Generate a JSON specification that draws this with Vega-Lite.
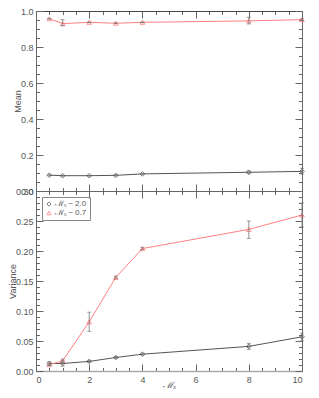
{
  "$schema": "https://vega.github.io/schema/vega-lite/v6.json",
  "background": "white",
  "padding": {"left": 8, "top": 7, "right": 5, "bottom": 0},
  "spacing": 0,
  "bounds": "flush",
  "resolve": {"scale": {"color": "independent", "shape": "independent", "stroke": "independent"}, "legend": {"color": "independent", "shape": "independent"}},
  "config": {
    "font": "Liberation Sans",
    "view": {"stroke": null},
    "axis": {"labelFont": "Liberation Sans", "labelFontSize": 9, "labelColor": "#555", "titleColor": "#555", "titleFontWeight": "normal", "titleFontSize": 9, "domainColor": "#666", "tickColor": "#666", "grid": false}
  },
  "datasets": {
    "mean": [
      {"Ms": 0.5, "series": "ℳₛ ~ 2.0", "value": 0.088, "lo": 0.085, "hi": 0.091},
      {"Ms": 1, "series": "ℳₛ ~ 2.0", "value": 0.085, "lo": 0.083, "hi": 0.087},
      {"Ms": 2, "series": "ℳₛ ~ 2.0", "value": 0.085, "lo": 0.083, "hi": 0.087},
      {"Ms": 3, "series": "ℳₛ ~ 2.0", "value": 0.087, "lo": 0.084, "hi": 0.09},
      {"Ms": 4, "series": "ℳₛ ~ 2.0", "value": 0.095, "lo": 0.093, "hi": 0.097},
      {"Ms": 8, "series": "ℳₛ ~ 2.0", "value": 0.104, "lo": 0.096, "hi": 0.112},
      {"Ms": 10, "series": "ℳₛ ~ 2.0", "value": 0.109, "lo": 0.094, "hi": 0.126},
      {"Ms": 0.5, "series": "ℳₛ ~ 0.7", "value": 0.957, "lo": 0.955, "hi": 0.959},
      {"Ms": 1, "series": "ℳₛ ~ 0.7", "value": 0.93, "lo": 0.918, "hi": 0.952},
      {"Ms": 2, "series": "ℳₛ ~ 0.7", "value": 0.937, "lo": 0.935, "hi": 0.939},
      {"Ms": 3, "series": "ℳₛ ~ 0.7", "value": 0.932, "lo": 0.93, "hi": 0.934},
      {"Ms": 4, "series": "ℳₛ ~ 0.7", "value": 0.937, "lo": 0.935, "hi": 0.939},
      {"Ms": 8, "series": "ℳₛ ~ 0.7", "value": 0.945, "lo": 0.928, "hi": 0.965},
      {"Ms": 10, "series": "ℳₛ ~ 0.7", "value": 0.952, "lo": 0.947, "hi": 0.957}
    ],
    "var": [
      {"Ms": 0.5, "series": "ℳₛ ~ 2.0", "value": 0.0125, "lo": 0.0095, "hi": 0.0155},
      {"Ms": 1, "series": "ℳₛ ~ 2.0", "value": 0.0125, "lo": 0.008, "hi": 0.017},
      {"Ms": 2, "series": "ℳₛ ~ 2.0", "value": 0.016, "lo": 0.0145, "hi": 0.0175},
      {"Ms": 3, "series": "ℳₛ ~ 2.0", "value": 0.0225, "lo": 0.021, "hi": 0.024},
      {"Ms": 4, "series": "ℳₛ ~ 2.0", "value": 0.028, "lo": 0.0265, "hi": 0.0295},
      {"Ms": 8, "series": "ℳₛ ~ 2.0", "value": 0.041, "lo": 0.036, "hi": 0.046},
      {"Ms": 10, "series": "ℳₛ ~ 2.0", "value": 0.057, "lo": 0.0505, "hi": 0.063},
      {"Ms": 0.5, "series": "ℳₛ ~ 0.7", "value": 0.0105, "lo": 0.009, "hi": 0.012},
      {"Ms": 1, "series": "ℳₛ ~ 0.7", "value": 0.017, "lo": 0.014, "hi": 0.02},
      {"Ms": 2, "series": "ℳₛ ~ 0.7", "value": 0.082, "lo": 0.066, "hi": 0.098},
      {"Ms": 3, "series": "ℳₛ ~ 0.7", "value": 0.156, "lo": 0.154, "hi": 0.158},
      {"Ms": 4, "series": "ℳₛ ~ 0.7", "value": 0.204, "lo": 0.202, "hi": 0.206},
      {"Ms": 8, "series": "ℳₛ ~ 0.7", "value": 0.236, "lo": 0.221, "hi": 0.25},
      {"Ms": 10, "series": "ℳₛ ~ 0.7", "value": 0.26, "lo": 0.24, "hi": 0.28}
    ]
  },
  "vconcat": [
    {
      "width": 266,
      "height": 180,
      "data": {"name": "mean"},
      "resolve": {"axis": {"x": "independent", "y": "independent"}},
      "layer": [
        {
          "mark": {"type": "line", "strokeWidth": 1},
          "encoding": {
            "x": {"field": "Ms", "type": "quantitative", "scale": {"domain": [0, 10], "nice": false},
              "axis": {"orient": "bottom", "title": null, "labels": false, "values": [0,0.5,1,1.5,2,2.5,3,3.5,4,4.5,5,5.5,6,6.5,7,7.5,8,8.5,9,9.5,10],
                "tickSize": {"condition": {"test": "datum.value % 2 === 0", "value": -7}, "value": -3.5}}},
            "y": {"field": "value", "type": "quantitative", "scale": {"domain": [0, 1], "nice": false},
              "axis": {"orient": "left", "title": "Mean", "titlePadding": -2,
                "values": [0,0.05,0.1,0.15,0.2,0.25,0.3,0.35,0.4,0.45,0.5,0.55,0.6,0.65,0.7,0.75,0.8,0.85,0.9,0.95,1],
                "labelExpr": "abs(datum.value*5 - round(datum.value*5)) < 0.001 ? format(datum.value, '.1f') : ''",
                "tickSize": {"condition": {"test": "abs(datum.value*5 - round(datum.value*5)) < 0.001", "value": -7}, "value": -3.5},
                "labelPadding": 10}},
            "stroke": {"field": "series", "type": "nominal", "scale": {"domain": ["ℳₛ ~ 0.7", "ℳₛ ~ 2.0"], "range": ["#ff8080", "#555555"]}, "legend": null}
          }
        },
        {
          "mark": {"type": "point", "filled": false, "size": 22, "strokeWidth": 1},
          "encoding": {
            "x": {"field": "Ms", "type": "quantitative", "axis": null},
            "y": {"field": "value", "type": "quantitative", "axis": null},
            "color": {"field": "series", "type": "nominal", "scale": {"domain": ["ℳₛ ~ 2.0", "ℳₛ ~ 0.7"], "range": ["#444444", "#ff6f6f"]}, "legend": null},
            "shape": {"field": "series", "type": "nominal", "scale": {"domain": ["ℳₛ ~ 2.0", "ℳₛ ~ 0.7"], "range": ["diamond", "triangle-up"]}, "legend": null}
          }
        },
        {
          "mark": {"type": "errorbar", "ticks": {"size": 4}, "rule": {"strokeWidth": 0.8}},
          "encoding": {
            "x": {"field": "Ms", "type": "quantitative", "axis": null},
            "y": {"field": "lo", "type": "quantitative", "axis": null},
            "y2": {"field": "hi"},
            "color": {"value": "#777777"}
          }
        },
        {
          "mark": {"type": "point", "opacity": 0},
          "encoding": {
            "x": {"field": "Ms", "type": "quantitative",
              "axis": {"orient": "top", "title": null, "labels": false, "domainColor": "#444", "values": [0,0.5,1,1.5,2,2.5,3,3.5,4,4.5,5,5.5,6,6.5,7,7.5,8,8.5,9,9.5,10],
                "tickSize": {"condition": {"test": "datum.value % 2 === 0", "value": -7}, "value": -3.5}}},
            "y": {"field": "value", "type": "quantitative",
              "axis": {"orient": "right", "title": null, "labels": false,
                "values": [0,0.05,0.1,0.15,0.2,0.25,0.3,0.35,0.4,0.45,0.5,0.55,0.6,0.65,0.7,0.75,0.8,0.85,0.9,0.95,1],
                "tickSize": {"condition": {"test": "abs(datum.value*5 - round(datum.value*5)) < 0.001", "value": -7}, "value": -3.5}}}
          }
        }
      ]
    },
    {
      "width": 266,
      "height": 180,
      "data": {"name": "var"},
      "resolve": {"axis": {"x": "independent", "y": "independent"}},
      "layer": [
        {
          "mark": {"type": "line", "strokeWidth": 1},
          "encoding": {
            "x": {"field": "Ms", "type": "quantitative", "scale": {"domain": [0, 10], "nice": false},
              "axis": {"orient": "bottom", "title": "ℳₛ", "titleFontStyle": "italic", "titlePadding": -4, "values": [0,0.5,1,1.5,2,2.5,3,3.5,4,4.5,5,5.5,6,6.5,7,7.5,8,8.5,9,9.5,10],
                "labelExpr": "datum.value % 2 === 0 ? format(datum.value, 'd') : ''", "labelPadding": 11, "domainColor": "#aaa", "domainWidth": 1.5,
                "tickSize": {"condition": {"test": "datum.value % 2 === 0", "value": -7}, "value": -3.5}}},
            "y": {"field": "value", "type": "quantitative", "scale": {"domain": [0, 0.3], "nice": false},
              "axis": {"orient": "left", "title": "Variance", "titlePadding": -2,
                "values": [0,0.01,0.02,0.03,0.04,0.05,0.06,0.07,0.08,0.09,0.1,0.11,0.12,0.13,0.14,0.15,0.16,0.17,0.18,0.19,0.2,0.21,0.22,0.23,0.24,0.25,0.26,0.27,0.28,0.29,0.3],
                "labelExpr": "abs(datum.value*20 - round(datum.value*20)) < 0.001 ? format(datum.value, '.2f') : ''",
                "tickSize": {"condition": {"test": "abs(datum.value*20 - round(datum.value*20)) < 0.001", "value": -7}, "value": -3.5},
                "labelPadding": 10}},
            "stroke": {"field": "series", "type": "nominal", "scale": {"domain": ["ℳₛ ~ 0.7", "ℳₛ ~ 2.0"], "range": ["#ff8080", "#555555"]}, "legend": null}
          }
        },
        {
          "mark": {"type": "point", "filled": false, "size": 22, "strokeWidth": 1},
          "encoding": {
            "x": {"field": "Ms", "type": "quantitative", "axis": null},
            "y": {"field": "value", "type": "quantitative", "axis": null},
            "color": {"field": "series", "type": "nominal", "scale": {"domain": ["ℳₛ ~ 2.0", "ℳₛ ~ 0.7"], "range": ["#444444", "#ff6f6f"]},
              "legend": {"title": null, "orient": "top-left", "offset": 6, "padding": 3, "strokeColor": "#888", "labelFontSize": 8, "labelColor": "#555", "symbolSize": 18, "rowPadding": 0, "labelOffset": 2, "symbolStrokeWidth": 1}},
            "shape": {"field": "series", "type": "nominal", "scale": {"domain": ["ℳₛ ~ 2.0", "ℳₛ ~ 0.7"], "range": ["diamond", "triangle-up"]},
              "legend": {"title": null, "orient": "top-left", "offset": 6, "padding": 3, "strokeColor": "#888", "labelFontSize": 8, "labelColor": "#555", "symbolSize": 18, "rowPadding": 0, "labelOffset": 2, "symbolStrokeWidth": 1}}
          }
        },
        {
          "mark": {"type": "errorbar", "ticks": {"size": 4}, "rule": {"strokeWidth": 0.8}},
          "encoding": {
            "x": {"field": "Ms", "type": "quantitative", "axis": null},
            "y": {"field": "lo", "type": "quantitative", "axis": null},
            "y2": {"field": "hi"},
            "color": {"value": "#777777"}
          }
        },
        {
          "mark": {"type": "point", "opacity": 0},
          "encoding": {
            "x": {"field": "Ms", "type": "quantitative",
              "axis": {"orient": "top", "title": null, "labels": false, "values": [0,0.5,1,1.5,2,2.5,3,3.5,4,4.5,5,5.5,6,6.5,7,7.5,8,8.5,9,9.5,10],
                "tickSize": {"condition": {"test": "datum.value % 2 === 0", "value": -7}, "value": -3.5}}},
            "y": {"field": "value", "type": "quantitative",
              "axis": {"orient": "right", "title": null, "labels": false,
                "values": [0,0.01,0.02,0.03,0.04,0.05,0.06,0.07,0.08,0.09,0.1,0.11,0.12,0.13,0.14,0.15,0.16,0.17,0.18,0.19,0.2,0.21,0.22,0.23,0.24,0.25,0.26,0.27,0.28,0.29,0.3],
                "tickSize": {"condition": {"test": "abs(datum.value*20 - round(datum.value*20)) < 0.001", "value": -7}, "value": -3.5}}}
          }
        }
      ]
    }
  ]
}
